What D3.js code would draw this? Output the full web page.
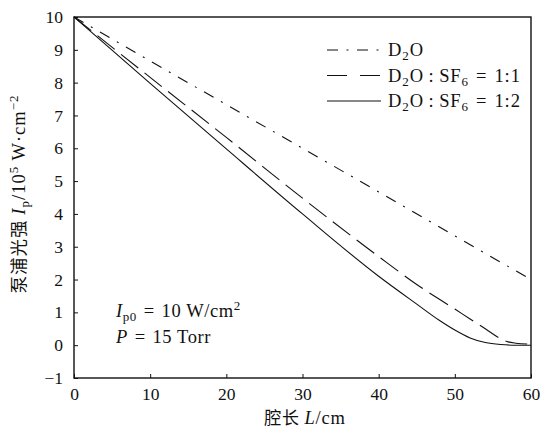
<!DOCTYPE html>
<html>
<head>
<meta charset="utf-8">
<script src="https://cdn.jsdelivr.net/npm/d3@7"></script>
<style>
  body { margin: 0; background: #fff; }
  text { font-family: "Liberation Serif", "DejaVu Serif", serif; fill: #111; }
  .cjk { font-family: "Noto Sans CJK SC", sans-serif; }
</style>
</head>
<body>
<div id="chart"></div>
<script>
// cavity length L (cm) and pump intensity (10^5 W/cm^2)
const lenD2O = [0, 10, 20, 30, 40, 50, 60];
const valD2O = [10, 8.66, 7.33, 6.0, 4.67, 3.33, 2.0];

const len11 = [0, 10, 20, 30, 40, 45, 50, 52, 54, 56, 57, 58, 60];
const val11 = [10, 8.16, 6.33, 4.48, 2.7, 1.85, 1.1, 0.8, 0.5, 0.2, 0.1, 0.06, 0.03];

const len12 = [0, 10, 20, 30, 40, 45, 48, 50, 52, 54, 56, 58, 60];
const val12 = [10, 7.98, 5.98, 4.0, 2.1, 1.25, 0.75, 0.46, 0.22, 0.08, 0.02, 0, 0];

const xTicks = [0, 10, 20, 30, 40, 50, 60];
const yTicks = [-1, 0, 1, 2, 3, 4, 5, 6, 7, 8, 9, 10];

const W = 543, H = 432;
const margin = { top: 17, right: 12, bottom: 54, left: 74 };
const width = W - margin.left - margin.right;
const height = H - margin.top - margin.bottom;

const svg = d3.select("#chart").append("svg")
    .attr("width", W)
    .attr("height", H);

const g = svg.append("g")
    .attr("transform", `translate(${margin.left},${margin.top})`);

const x = d3.scaleLinear().domain([0, 60]).range([0, width]);
const y = d3.scaleLinear().domain([-1, 10]).range([height, 0]);

// axes, ticks pointing inward
const xAxis = g.append("g")
    .attr("transform", `translate(0,${height})`)
    .call(d3.axisBottom(x).tickValues(xTicks).tickSize(-4).tickPadding(10).tickFormat(d3.format("d")));

const yAxis = g.append("g")
    .call(d3.axisLeft(y).tickValues(yTicks).tickSize(-4).tickPadding(11)
        .tickFormat(d => d < 0 ? "\u2212" + Math.abs(d) : d));

[xAxis, yAxis].forEach(a => {
    a.attr("font-family", null);
    a.select(".domain").remove();
    a.selectAll(".tick line").attr("stroke", "#111").attr("stroke-width", 1);
    a.selectAll(".tick text").attr("font-size", 17.5).attr("fill", "#111");
});

// frame
g.append("rect")
    .attr("x", 0).attr("y", 0)
    .attr("width", width).attr("height", height)
    .attr("fill", "none")
    .attr("stroke", "#111")
    .attr("stroke-width", 1.4);

const series = [
    { xs: lenD2O, ys: valD2O, dash: "11,8.5,2,8.5" },
    { xs: len11, ys: val11, dash: "22,8" },
    { xs: len12, ys: val12, dash: null }
];

const line = d3.line()
    .x(d => x(d[0]))
    .y(d => y(d[1]))
    .curve(d3.curveMonotoneX);

series.forEach(s => {
    g.append("path")
        .datum(s.xs.map((v, i) => [v, s.ys[i]]))
        .attr("fill", "none")
        .attr("stroke", "#111")
        .attr("stroke-width", 1.1)
        .attr("stroke-dasharray", s.dash)
        .attr("d", line);
});

// legend
const legendRows = [
    { dash: "11,8.5,2,8.5", parts: [["D"], ["2", "sub"], ["O"]] },
    { dash: "20,13", parts: [["D"], ["2", "sub"], ["O\u2009:\u2009SF"], ["6", "sub"], ["\u2004=\u20041:1"]] },
    { dash: null, parts: [["D"], ["2", "sub"], ["O\u2009:\u2009SF"], ["6", "sub"], ["\u2004=\u20041:2"]] }
];

const legend = svg.selectAll(".legend")
    .data(legendRows)
    .enter().append("g")
    .attr("class", "legend")
    .attr("transform", (d, i) => `translate(327, ${50 + i * 25.5})`);

legend.append("line")
    .attr("x1", 0).attr("x2", 54)
    .attr("y1", 0).attr("y2", 0)
    .attr("stroke", "#111")
    .attr("stroke-width", 1.1)
    .attr("stroke-dasharray", d => d.dash);

legend.each(function(d) {
    const t = d3.select(this).append("text")
        .attr("x", 61).attr("y", 6)
        .attr("font-size", 18.5)
        .attr("letter-spacing", 0.9);
    // reset baseline after each subscript
    let shift = 0;
    d.parts.forEach(p => {
        const ts = t.append("tspan").text(p[0]);
        if (p[1] === "sub") { ts.attr("font-size", 13).attr("dy", 4 - shift); shift = 4; }
        else { ts.attr("dy", -shift); shift = 0; }
    });
});

// annotation
const ann1 = svg.append("text").attr("x", 116).attr("y", 317).attr("font-size", 18.5).attr("letter-spacing", 0.6);
ann1.append("tspan").attr("font-style", "italic").text("I");
ann1.append("tspan").attr("font-size", 13).attr("dy", 4).text("p0");
ann1.append("tspan").attr("dy", -4).text("\u2004=\u200410 W/cm");
ann1.append("tspan").attr("font-size", 13).attr("dy", -7).text("2");

const ann2 = svg.append("text").attr("x", 116).attr("y", 343).attr("font-size", 18.5).attr("letter-spacing", 0.6);
ann2.append("tspan").attr("font-style", "italic").text("P");
ann2.append("tspan").text("\u2004=\u200415 Torr");

// x label
const xl = svg.append("text")
    .attr("x", 305)
    .attr("y", 424)
    .attr("text-anchor", "middle")
    .attr("font-size", 18.5)
    .attr("letter-spacing", 0.8);
xl.append("tspan").attr("class", "cjk").attr("font-size", 17).text("腔长 ");
xl.append("tspan").attr("font-style", "italic").text("L");
xl.append("tspan").text("/cm");

// y label
const yl = svg.append("text")
    .attr("transform", `translate(25, 194) rotate(-90)`)
    .attr("text-anchor", "middle")
    .attr("font-size", 18.5)
    .attr("letter-spacing", 1);
yl.append("tspan").attr("class", "cjk").attr("font-size", 17.5).text("泵浦光强 ");
yl.append("tspan").attr("font-style", "italic").text("I");
yl.append("tspan").attr("font-size", 13).attr("dy", 4).text("p");
yl.append("tspan").attr("dy", -4).text("/10");
yl.append("tspan").attr("font-size", 13).attr("dy", -7).text("5");
yl.append("tspan").attr("dy", 7).text(" W\u00b7cm");
yl.append("tspan").attr("font-size", 13).attr("dy", -7).text("\u22122");
</script>
</body>
</html>
